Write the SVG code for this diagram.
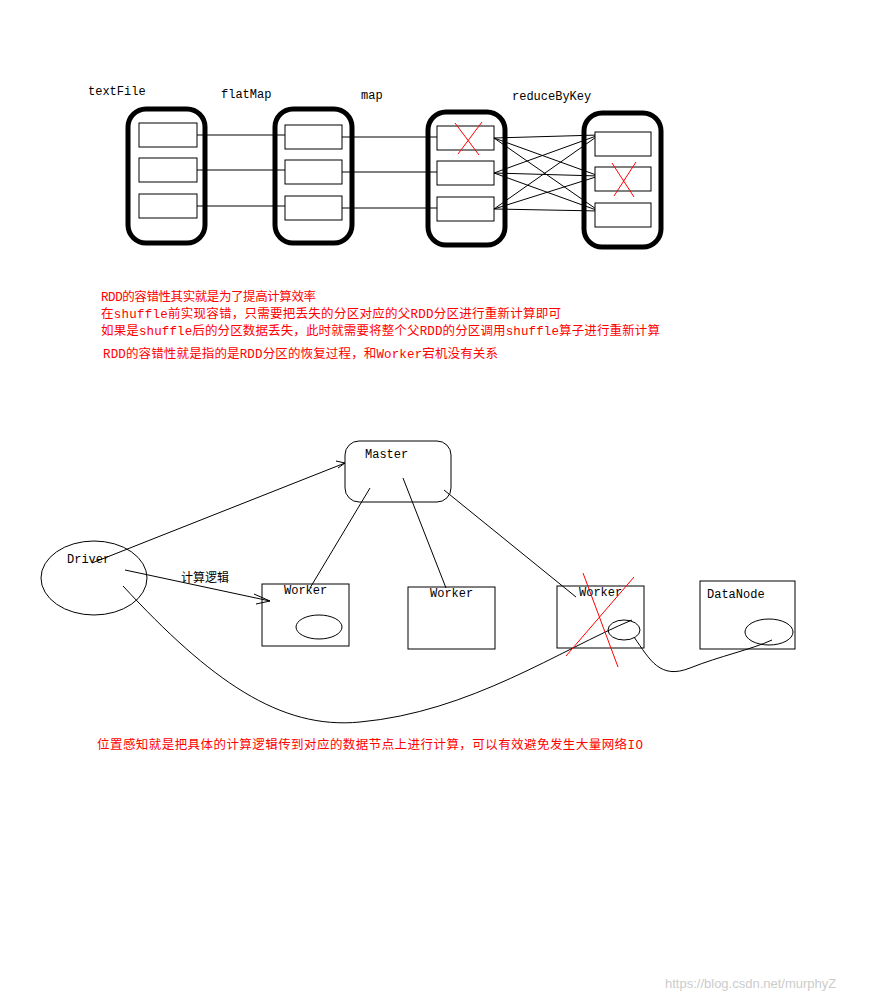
<svg xmlns="http://www.w3.org/2000/svg" width="882" height="1000" viewBox="0 0 882 1000">
<style>
.o{fill:none;stroke:#000;stroke-width:5}
.i{fill:#fff;stroke:#000;stroke-width:1}
.l{fill:none;stroke:#000;stroke-width:1}
.x{stroke:#f00;stroke-width:1}
.t{font-family:"Liberation Mono",monospace;font-size:12px;fill:#000}
.r{font-family:"Liberation Mono","Noto Sans CJK SC",monospace;font-size:12.5px;fill:#f00}
</style>
<rect width="882" height="1000" fill="#fff"/>
<g id="labels-top">
<text class="t" x="88" y="95">textFile</text>
<text class="t" x="221" y="98">flatMap</text>
<text class="t" x="361" y="99">map</text>
<text class="t" x="512" y="100">reduceByKey</text>
</g>
<g id="connectors">
<path class="l" d="M197,135H285M197,170H285M197,206H285M342,137H437M342,172H437M342,208H437"/>
<path class="l" d="M494,138L599,135M494,138L599,176M494,138L599,211M494,173L599,135M494,173L599,176M494,173L599,211M494,209L599,135M494,209L599,176M494,209L599,211"/>
<path class="l" d="M92,563L345,463M336,461L345,463L338,468"/>
<path class="l" d="M370,488L310,588M403,478L446,588M444,490L576,597"/>
<path class="l" d="M125,570L270,601M254,594L270,601L256,604"/>
<path class="l" d="M123,586C210,680 280,730 360,722C470,712 560,650 632,620"/>
<path class="l" d="M634,637C650,660 660,680 690,668C720,656 750,650 772,640"/>
</g>
<g id="textFile"><rect class="o" x="128" y="109" width="77" height="134" rx="18"/>
<rect class="i" x="139" y="123" width="58" height="24"/><rect class="i" x="139" y="158" width="58" height="24"/><rect class="i" x="139" y="194" width="58" height="24"/></g>
<g id="flatMap"><rect class="o" x="275" y="109" width="77" height="134" rx="18"/>
<rect class="i" x="285" y="125" width="57" height="24"/><rect class="i" x="285" y="160" width="57" height="24"/><rect class="i" x="285" y="196" width="57" height="24"/></g>
<g id="map"><rect class="o" x="428" y="112" width="77" height="133" rx="18"/>
<rect class="i" x="437" y="126" width="57" height="24"/><rect class="i" x="437" y="161" width="57" height="24"/><rect class="i" x="437" y="197" width="57" height="24"/>
<path class="x" d="M455,123L479,155M482,122L458,154"/></g>
<g id="reduceByKey"><rect class="o" x="584" y="113" width="77" height="134" rx="18"/>
<rect class="i" x="595" y="132" width="56" height="24"/><rect class="i" x="595" y="167" width="56" height="24"/><rect class="i" x="595" y="203" width="56" height="24"/>
<path class="x" d="M612,163L634,197M636,162L614,196"/></g>
<g id="notes">
<text class="r" x="101" y="301" textLength="215">RDD的容错性其实就是为了提高计算效率</text>
<text class="r" x="101" y="318" textLength="460">在shuffle前实现容错，只需要把丢失的分区对应的父RDD分区进行重新计算即可</text>
<text class="r" x="101" y="335" textLength="559">如果是shuffle后的分区数据丢失，此时就需要将整个父RDD的分区调用shuffle算子进行重新计算</text>
<text class="r" x="103" y="358" textLength="395">RDD的容错性就是指的是RDD分区的恢复过程，和Worker宕机没有关系</text>
</g>
<g id="master"><rect class="l" x="345" y="441" width="106" height="61" rx="14"/><text class="t" x="365" y="458">Master</text></g>
<g id="driver"><ellipse class="l" cx="94" cy="578" rx="53" ry="37"/><text class="t" x="67" y="563">Driver</text></g>
<text x="181" y="582" font-family="Noto Sans CJK SC,sans-serif" font-size="12">计算逻辑</text>
<g id="worker1"><rect class="l" x="262" y="584" width="87" height="62"/><text class="t" x="284" y="594">Worker</text><ellipse class="l" cx="319" cy="627" rx="23" ry="12"/></g>
<g id="worker2"><rect class="l" x="408" y="587" width="87" height="62"/><text class="t" x="430" y="597">Worker</text></g>
<g id="worker3"><rect class="l" x="557" y="586" width="87" height="62"/><text class="t" x="579" y="596">Worker</text><ellipse class="l" cx="624" cy="630" rx="16" ry="10"/>
<path class="x" d="M583,573L618,667M634,577L566,656"/></g>
<g id="datanode"><rect class="l" x="700" y="581" width="95" height="68"/><text class="t" x="707" y="598">DataNode</text><ellipse class="l" cx="769" cy="632" rx="24" ry="13"/></g>
<text class="r" x="97" y="749" textLength="546">位置感知就是把具体的计算逻辑传到对应的数据节点上进行计算，可以有效避免发生大量网络IO</text>
<text x="665" y="988" font-family="Liberation Sans,sans-serif" font-size="13" fill="#ccc">https://blog.csdn.net/murphyZ</text>
</svg>
